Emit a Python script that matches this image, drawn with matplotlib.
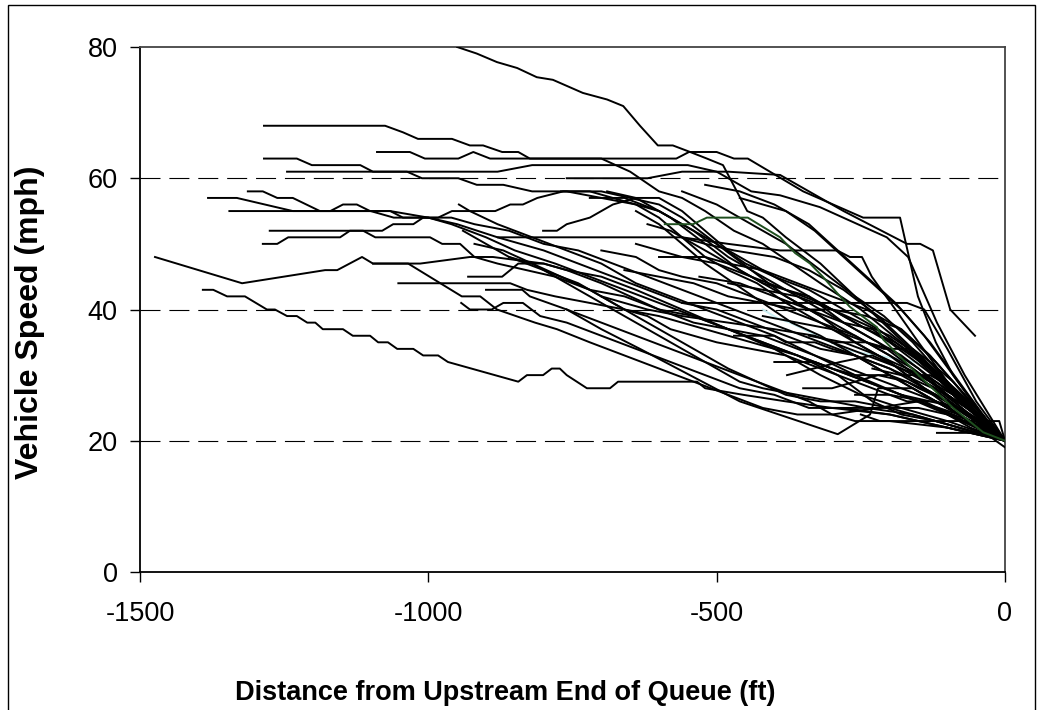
import matplotlib
matplotlib.use("Agg")
import matplotlib.pyplot as plt
from matplotlib.patches import Rectangle

plt.rcParams['font.family'] = ['Liberation Sans', 'DejaVu Sans']
plt.rcParams['axes.unicode_minus'] = False

# vehicle speed traces, (distance ft, speed mph)
upper_runs = [
    [(-950, 80), (-916, 79), (-881, 77.7), (-846, 76.8), (-812, 75.4), (-784, 75), (-732, 73), (-690, 72),
     (-662, 71), (-633, 68), (-602, 65), (-576, 65), (-546, 64), (-517, 63), (-489, 62), (-477, 60),
     (-447, 55), (-420, 54), (-380, 51), (-320, 47), (-260, 42), (-200, 37), (-140, 32), (-80, 26), (0, 20)],
    [(-1285, 68), (-1075, 68), (-1044, 67), (-1018, 66), (-959, 66), (-928, 65), (-905, 65), (-872, 64),
     (-844, 64), (-824, 63), (-700, 63), (-650, 61), (-600, 58), (-560, 57), (-520, 55), (-470, 52),
     (-420, 50), (-370, 47), (-320, 44), (-250, 40), (-180, 35), (-120, 30), (-60, 25), (0, 20)],
    [(-1285, 63), (-1228, 63), (-1202, 62), (-1118, 62), (-1096, 61), (-1037, 61), (-1011, 60), (-948, 60),
     (-916, 59), (-870, 59), (-820, 58), (-760, 58), (-700, 57), (-640, 56), (-600, 55), (-560, 53),
     (-500, 50), (-450, 47), (-400, 45), (-340, 42), (-280, 38), (-220, 35), (-160, 31), (-100, 27),
     (-50, 24), (0, 20)],
    [(-1245, 61), (-880, 61), (-820, 62), (-550, 62), (-500, 61), (-440, 58), (-390, 57.4), (-321, 55.6),
     (-205, 51), (-168, 48), (-118, 38), (-70, 30), (0, 20)],
    [(-1089, 64), (-1032, 64), (-1006, 63), (-948, 63), (-922, 64), (-893, 63), (-570, 63), (-548, 64),
     (-500, 64), (-470, 63), (-446, 63), (-350, 58), (-246, 54), (-182, 54), (-151, 42), (-120, 35),
     (-90, 30), (-40, 24), (0, 20)],
    [(-760, 60), (-620, 60), (-560, 61), (-480, 61), (-390, 60.5), (-280, 55), (-170, 50), (-147, 50),
     (-125, 49), (-95, 40), (-52, 36)],
    [(-1313, 58), (-1287, 58), (-1262, 57), (-1235, 57), (-1188, 55), (-1170, 55), (-1148, 56), (-1124, 56),
     (-1101, 55), (-1066, 55), (-1044, 54), (-1000, 54), (-960, 53), (-900, 51), (-850, 49), (-780, 47),
     (-720, 45), (-660, 43), (-600, 41), (-540, 39), (-480, 37), (-420, 35), (-360, 33), (-300, 31),
     (-240, 29), (-180, 27), (-120, 25), (-60, 23), (0, 20)],
    [(-1382, 57), (-1332, 57), (-1235, 55), (-1100, 55), (-1060, 54), (-1000, 54), (-950, 53), (-880, 51),
     (-800, 49), (-740, 47), (-680, 45), (-620, 43), (-560, 41), (-500, 40), (-440, 38), (-380, 36),
     (-320, 34), (-260, 33), (-200, 31), (-140, 28), (-80, 25), (0, 20)],
    [(-1345, 55), (-1066, 55), (-1000, 54), (-960, 54), (-920, 53), (-860, 52), (-800, 50), (-740, 49),
     (-680, 47), (-620, 45), (-560, 43), (-500, 41), (-440, 39), (-380, 37), (-320, 35), (-260, 33),
     (-200, 30), (-140, 27), (-80, 24), (0, 20)],
    [(-1275, 52), (-1080, 52), (-1061, 53), (-1026, 53), (-1009, 54), (-983, 54), (-959, 55), (-884, 55),
     (-858, 56), (-836, 56), (-811, 57), (-766, 58), (-720, 58), (-680, 57), (-640, 56), (-600, 54),
     (-560, 51), (-520, 48), (-480, 46), (-430, 44), (-380, 41), (-320, 38), (-260, 35), (-200, 32),
     (-140, 28), (-80, 24), (0, 20)],
    [(-1287, 50), (-1262, 50), (-1243, 51), (-1153, 51), (-1136, 52), (-1113, 52), (-1092, 51), (-997, 51),
     (-976, 50), (-945, 50), (-920, 48), (-880, 47), (-830, 46), (-780, 45), (-720, 43), (-660, 42),
     (-600, 40), (-540, 38), (-480, 37), (-420, 35), (-360, 33), (-300, 31), (-240, 29), (-180, 27),
     (-120, 25), (-60, 22), (0, 20)],
]

lower_runs = [
    [(-1474, 48), (-1323, 44), (-1179, 46), (-1158, 46), (-1115, 48), (-1096, 47), (-1014, 47), (-928, 48),
     (-888, 48), (-800, 47), (-760, 46), (-700, 44), (-650, 42), (-600, 40), (-540, 39), (-480, 37),
     (-420, 36), (-360, 34), (-300, 32), (-240, 30), (-180, 28), (-120, 26), (-60, 23), (0, 20)],
    [(-1391, 43), (-1373, 43), (-1349, 42), (-1318, 42), (-1280, 40), (-1266, 40), (-1245, 39), (-1228, 39),
     (-1210, 38), (-1196, 38), (-1183, 37), (-1148, 37), (-1131, 36), (-1101, 36), (-1087, 35), (-1070, 35),
     (-1054, 34), (-1026, 34), (-1009, 33), (-983, 33), (-966, 32), (-844, 29), (-829, 30), (-801, 30),
     (-786, 31), (-772, 31), (-760, 30), (-725, 28), (-685, 28), (-671, 29), (-534, 29), (-520, 28),
     (-454, 27), (-380, 26), (-300, 25), (-200, 24), (-100, 22), (0, 20)],
    [(-1096, 47), (-1035, 47), (-942, 42), (-910, 42), (-881, 40), (-815, 38), (-777, 37), (-720, 35),
     (-660, 33), (-600, 31), (-540, 29), (-480, 27), (-420, 25), (-360, 24), (-300, 24), (-220, 25),
     (-150, 26), (-80, 24), (0, 20)],
    [(-760, 40), (-700, 37), (-633, 34), (-460, 26), (-290, 21), (-234, 24), (-220, 28), (-160, 28),
     (-80, 24), (0, 19)],
]

middle_runs = [
    [(-947, 56), (-928, 55), (-880, 53), (-820, 51), (-760, 49), (-700, 47), (-640, 44), (-580, 42),
     (-520, 40), (-460, 38), (-400, 36), (-330, 33), (-260, 30), (-180, 27), (-100, 24), (0, 20)],
    [(-801, 52), (-777, 52), (-760, 53), (-720, 54), (-680, 56), (-640, 57), (-600, 57), (-560, 55),
     (-520, 52), (-480, 49), (-440, 47), (-400, 45), (-340, 43), (-280, 40), (-220, 37), (-160, 33),
     (-100, 28), (-50, 24), (0, 20)],
    [(-879, 51), (-560, 51), (-520, 50), (-470, 49), (-400, 48), (-340, 46), (-280, 43), (-220, 39),
     (-160, 34), (-100, 29), (-50, 25), (0, 20)],
    [(-931, 45), (-872, 45), (-844, 47), (-800, 47), (-760, 46), (-700, 45), (-640, 43), (-560, 40),
     (-480, 37), (-400, 34), (-320, 30), (-250, 27), (-180, 25), (-100, 23), (0, 20)],
    [(-1052, 44), (-858, 44), (-829, 43), (-780, 42), (-720, 41), (-660, 40), (-600, 39), (-520, 37),
     (-440, 35), (-360, 33), (-290, 30), (-230, 26), (-180, 24), (-120, 23), (0, 20)],
    [(-900, 43), (-837, 43), (-824, 42), (-760, 40), (-700, 38), (-640, 36), (-580, 34), (-520, 32),
     (-460, 30), (-400, 28), (-340, 26), (-300, 24), (-260, 23), (-200, 23), (-100, 22), (0, 20)],
    [(-943, 41), (-928, 40), (-890, 40), (-870, 41), (-836, 41), (-806, 39), (-760, 38), (-700, 36),
     (-640, 34), (-580, 32), (-520, 30), (-460, 28), (-400, 27), (-340, 25), (-280, 25), (-200, 24),
     (-100, 22), (0, 20)],
    [(-940, 52), (-900, 50), (-860, 48), (-820, 47), (-780, 45), (-740, 43), (-700, 41), (-660, 39),
     (-620, 37), (-580, 35), (-540, 33), (-500, 31), (-460, 29), (-420, 28), (-360, 27), (-300, 26),
     (-240, 25), (-160, 24), (-80, 22), (0, 20)],
    [(-920, 50), (-870, 49), (-820, 47), (-770, 45), (-720, 43), (-680, 41), (-640, 39), (-600, 37),
     (-560, 35), (-520, 33), (-480, 31), (-430, 29), (-380, 27), (-320, 26), (-260, 26), (-200, 25),
     (-120, 23), (0, 20)],
    [(-860, 48), (-800, 46), (-740, 44), (-700, 42), (-660, 40), (-620, 39), (-580, 37), (-540, 36),
     (-500, 35), (-440, 34), (-380, 33), (-320, 31), (-260, 29), (-200, 27), (-140, 26), (-70, 23), (0, 20)],
    [(-700, 49), (-640, 48), (-600, 46), (-560, 45), (-500, 44), (-440, 42), (-380, 40), (-320, 38),
     (-260, 36), (-200, 33), (-140, 29), (-80, 25), (0, 20)],
    [(-620, 53), (-580, 52), (-540, 50), (-500, 48), (-460, 46), (-420, 44), (-380, 43), (-340, 42),
     (-300, 40), (-250, 38), (-200, 36), (-150, 33), (-100, 29), (-50, 24), (0, 20)],
]

dense_runs = [
    [(-720, 57), (-660, 57), (-600, 55), (-540, 52), (-480, 48), (-420, 45), (-360, 42), (-300, 39),
     (-240, 36), (-180, 33), (-120, 29), (-60, 25), (0, 20)],
    [(-690, 58), (-640, 57), (-580, 54), (-520, 50), (-460, 46), (-400, 43), (-340, 40), (-280, 37),
     (-220, 34), (-160, 31), (-100, 27), (-50, 24), (0, 20)],
    [(-770, 58), (-700, 58), (-650, 57), (-600, 56), (-560, 54), (-500, 50), (-440, 46), (-380, 42),
     (-320, 39), (-260, 35), (-200, 32), (-140, 28), (-80, 25), (0, 20)],
    [(-640, 50), (-600, 49), (-560, 48), (-500, 47), (-440, 45), (-380, 43), (-320, 41), (-260, 38),
     (-200, 35), (-140, 31), (-80, 27), (0, 20)],
    [(-600, 48), (-520, 48), (-480, 47), (-420, 46), (-360, 44), (-300, 42), (-240, 40), (-180, 37),
     (-130, 33), (-80, 28), (-40, 24), (0, 20)],
    [(-660, 46), (-600, 45), (-540, 44), (-480, 42), (-420, 41), (-360, 40), (-300, 40), (-240, 39),
     (-180, 37), (-120, 32), (-60, 26), (0, 20)],
    [(-560, 41), (-300, 41), (-240, 41), (-170, 41), (-140, 40), (-100, 34), (-50, 26), (0, 20)],
    [(-530, 45), (-460, 44), (-400, 42), (-340, 40), (-280, 38), (-230, 37), (-180, 34), (-130, 31),
     (-80, 27), (0, 20)],
    [(-480, 44), (-420, 43), (-360, 42), (-300, 40), (-240, 37), (-190, 35), (-140, 32), (-90, 28),
     (-40, 24), (0, 20)],
    [(-700, 42), (-620, 40), (-560, 39), (-480, 38), (-400, 37), (-330, 36), (-270, 34), (-210, 32),
     (-150, 30), (-90, 27), (-40, 23), (0, 20)],
    [(-470, 36), (-400, 36), (-380, 35), (-330, 35), (-300, 34), (-260, 33), (-200, 31), (-150, 29),
     (-100, 27), (-50, 24), (0, 20)],
    [(-400, 32), (-330, 32), (-300, 31), (-260, 30), (-200, 30), (-170, 29), (-150, 28), (-100, 26),
     (-50, 23), (0, 20)],
    [(-350, 28), (-300, 28), (-260, 29), (-220, 30), (-170, 29), (-120, 27), (-70, 24), (0, 20)],
    [(-320, 25), (-250, 25), (-200, 25), (-150, 25), (-100, 24), (-50, 22), (0, 20)],
    [(-250, 24), (-217, 23), (-100, 23), (-10, 23), (0, 20)],
    [(-180, 27), (-130, 26), (-80, 25), (-40, 23), (0, 20)],
    [(-340, 36), (-280, 35), (-220, 33), (-170, 31), (-120, 29), (-70, 26), (-30, 23), (0, 20)],
    [(-640, 55), (-600, 53), (-560, 50), (-520, 47), (-470, 44), (-420, 41), (-370, 38), (-320, 36),
     (-260, 33), (-200, 30), (-140, 27), (-80, 24), (0, 20)],
    [(-560, 58), (-500, 56), (-440, 53), (-380, 50), (-320, 46), (-260, 42), (-210, 39), (-160, 35),
     (-110, 30), (-60, 25), (0, 20)],
    [(-520, 59), (-460, 58), (-400, 56), (-340, 53), (-290, 49), (-240, 45), (-190, 41), (-140, 36),
     (-90, 30), (-40, 24), (0, 20)],
    [(-460, 57), (-420, 56), (-380, 55), (-330, 52), (-280, 48), (-230, 44), (-180, 40), (-130, 35),
     (-80, 29), (-30, 23), (0, 20)],
    [(-560, 51), (-480, 50), (-390, 49), (-291, 49), (-269, 48), (-248, 48), (-231, 45), (-190, 40),
     (-150, 35), (-100, 29), (-50, 24), (0, 20)],
    [(-378, 30), (-286, 32), (-230, 33), (-180, 31), (-120, 28), (-60, 24), (0, 20)],
    [(-118, 21.2), (-43, 21.2), (0, 20)],
    [(-300, 35), (-240, 35), (-210, 34), (-160, 34), (-130, 32), (-90, 29), (-40, 24), (0, 20)],
    [(-260, 27), (-200, 27), (-170, 26), (-120, 26), (-80, 25), (-30, 22), (0, 20)],
    [(-420, 39), (-360, 38), (-300, 37), (-240, 35), (-200, 34), (-150, 31), (-100, 27), (-50, 23), (0, 20)],
    [(-230, 31), (-180, 30), (-130, 30), (-90, 28), (-50, 25), (0, 20)],
]

cyan_run = [(-420, 40), (-395, 38.7), (-373, 38), (-274, 33.8), (-142, 31.8), (-80, 27), (0, 20)]
green_run = [(-590, 53), (-541, 53), (-517, 54), (-446, 54), (-420, 52.6), (-390, 51), (-364, 48.6),
             (-338, 47), (-316, 45), (-291, 42.5), (-269, 40.4), (-222, 37.3), (-211, 35.4),
             (-150, 30), (-90, 25), (-38, 21.3), (0, 20)]

y_ticks = [0, 20, 40, 60, 80]
x_ticks = [-1500, -1000, -500, 0]

fig = plt.figure(figsize=(10.45, 7.10), dpi=100)
ax = fig.add_axes([140 / 1045, 1 - 572 / 710, 865 / 1045, 525 / 710])

# outer frame around the chart
fig.patches.append(Rectangle((8 / 1045, -0.01), 1027 / 1045, 1.01 - 5 / 710, transform=fig.transFigure,
                             fill=False, edgecolor='black', linewidth=1.0))

for y in [20, 40, 60]:
    ax.axhline(y, color='black', linewidth=0.8, linestyle=(0, (18, 8)), zorder=1)

ax.plot(*zip(*cyan_run), color='#c8eef2', linewidth=1.4, zorder=2)
for run in upper_runs + lower_runs + middle_runs + dense_runs:
    ax.plot(*zip(*run), color='black', linewidth=1.4, zorder=3)
ax.plot(*zip(*green_run), color='#1f4f1f', linewidth=1.4, zorder=4)

ax.set_xlim(-1500, 0)
ax.set_ylim(0, 80)
ax.set_xticks(x_ticks)
ax.set_yticks(y_ticks)
ax.tick_params(direction='out', length=7, width=1, labelsize=19.5, colors='black')
ax.tick_params(axis='x', pad=14)
ax.tick_params(axis='y', pad=9)

for side in ['left', 'bottom']:
    ax.spines[side].set_linewidth(1.3)
for side in ['top', 'right']:
    ax.spines[side].set_linewidth(1.3)
    ax.spines[side].set_color('#444444')

ax.set_xlabel('Distance from Upstream End of Queue (ft)', fontsize=19.5, fontweight='bold')
ax.set_ylabel('Vehicle Speed (mph)', fontsize=23, fontweight='bold')
ax.xaxis.set_label_coords(0.422, -0.205)
ax.yaxis.set_label_coords(-0.110, 0.476)

fig.savefig('out.png', dpi=100)
